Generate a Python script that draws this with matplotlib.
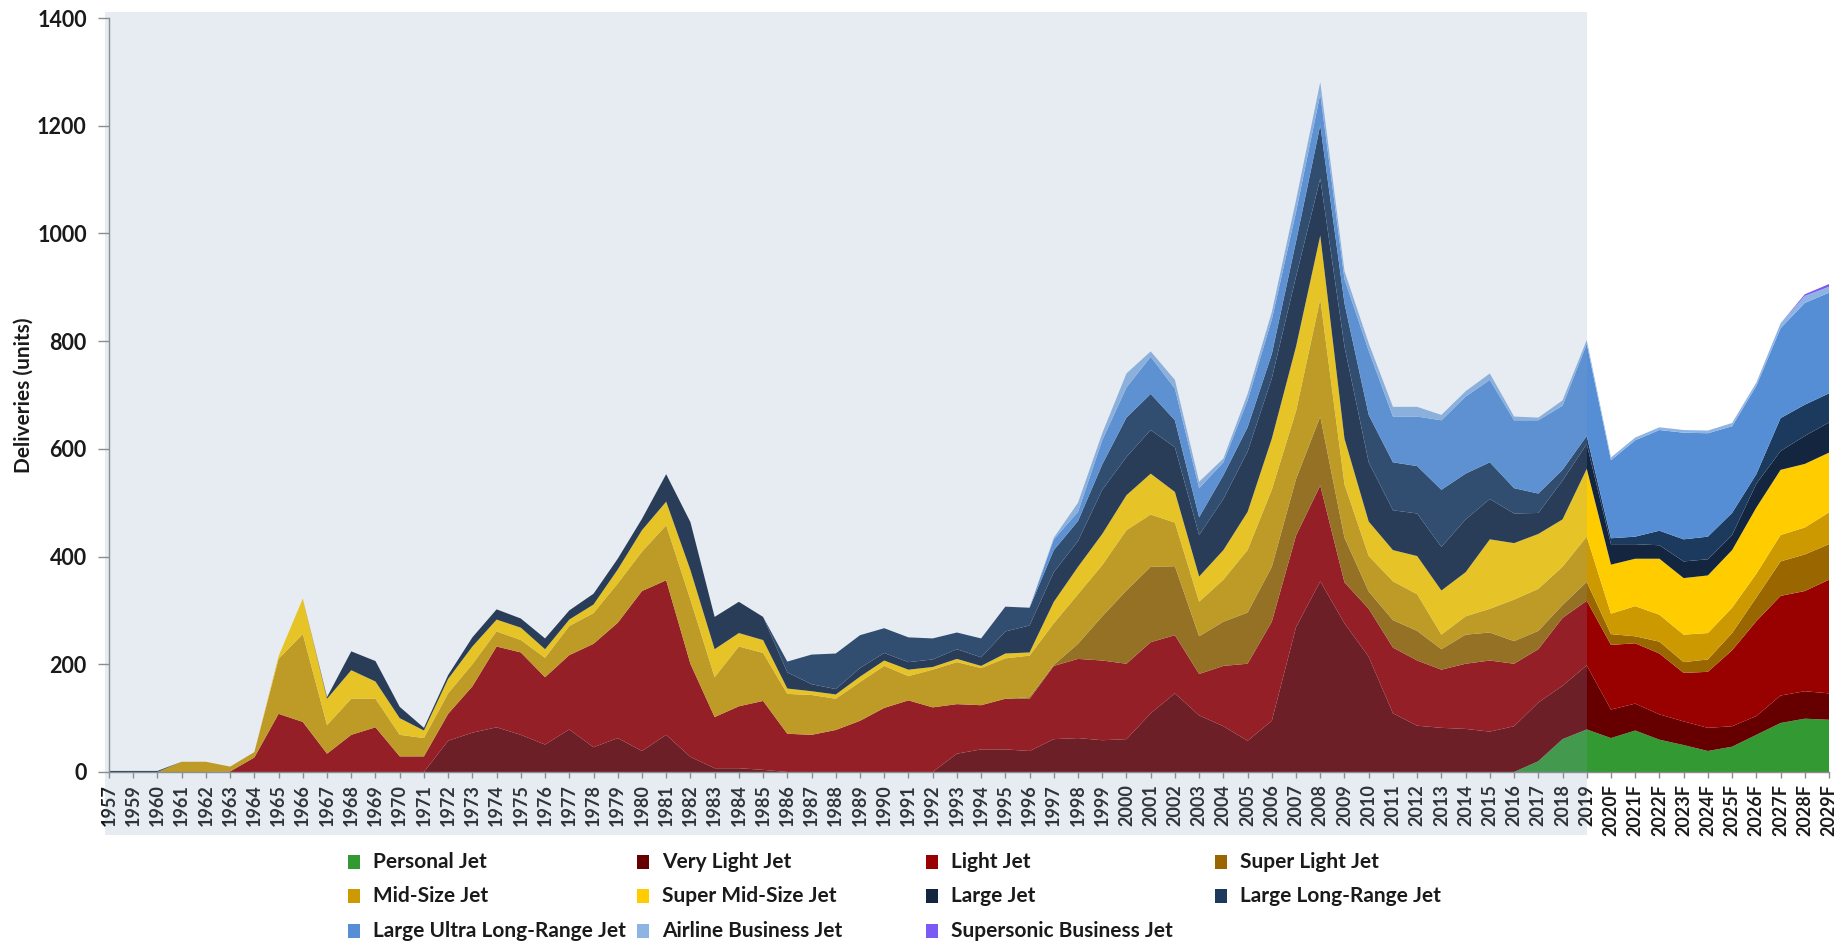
import numpy as np
import matplotlib
matplotlib.use('Agg')
import matplotlib.pyplot as plt
from matplotlib.patches import Rectangle

plt.rcParams['font.family'] = ['Lato', 'DejaVu Sans']

years = ['1957'] + [str(y) for y in range(1959, 2020)] + [f'{y}F' for y in range(2020, 2030)]

personal = [0] * 59 + [20, 61, 79, 63, 77, 60, 50, 39, 47, 69, 91, 99, 97]
very_light = ([0] * 14 + [58, 73, 83, 69, 51, 79, 46, 63, 39, 69, 28, 7, 7, 4] + [0] * 7 +
              [34, 42, 42, 39, 61, 63, 59, 61, 109, 146, 105, 85, 58, 95, 269, 354, 276, 214,
               109, 86, 82, 80, 75, 85, 109, 99, 119] +
              [53, 50, 47, 44, 43, 38, 35, 51, 51, 49])
light = ([0] * 5 +
         [1, 27, 108, 93, 34, 69, 83, 29, 29, 50, 86, 150, 153, 125, 138, 192, 214, 297, 287,
          173, 95, 115, 128, 71, 69, 78, 95, 119, 133, 120, 92, 82, 94, 97, 136, 147, 148, 140,
          132, 108, 77, 112, 143, 184, 170, 178, 76, 89, 122, 121, 108, 121, 132, 116, 99, 126,
          120] +
         [120, 112, 113, 90, 104, 141, 176, 185, 186, 211])
super_light = ([0] * 38 +
               [3, 2, 28, 82, 136, 140, 128, 70, 82, 95, 102, 105, 128, 83, 32, 51, 55, 38, 54,
                52, 42, 34, 24, 35] +
               [20, 13, 22, 20, 23, 32, 44, 64, 68, 66])
mid_size = ([0] * 3 +
            [19, 19, 9, 10, 102, 163, 53, 67, 53, 40, 34, 38, 41, 28, 23, 36, 54, 57, 73, 73,
             102, 119, 74, 111, 89, 74, 74, 58, 72, 78, 45, 70, 78, 69, 75, 77, 77, 92, 95, 112,
             97, 81, 64, 78, 116, 143, 126, 218, 99, 66, 72, 68, 27, 34, 44, 77, 78, 71, 84] +
            [38, 56, 50, 51, 49, 47, 44, 49, 50, 59])
super_mid = ([0] * 7 +
             [5, 66, 49, 53, 32, 31, 14, 27, 33, 22, 23, 16, 12, 16, 26, 40, 44, 55, 52, 25, 24,
              10, 7, 8, 10, 10, 12, 5, 6, 4, 9, 6, 40, 51, 58, 65, 76, 57, 47, 55, 71, 95, 120,
              118, 85, 64, 58, 71, 82, 82, 129, 105, 102, 88, 126] +
             [91, 88, 104, 105, 107, 107, 123, 121, 118, 111])
large = ([2, 2, 2] + [0] * 6 +
         [3, 35, 38, 21, 5, 7, 17, 19, 17, 20, 17, 20, 20, 21, 51, 89, 60, 58, 43, 30, 13, 10,
          16, 14, 14, 14, 18, 16, 41, 50, 55, 48, 82, 71, 81, 83, 77, 95, 112, 112, 130, 106,
          171, 110, 74, 79, 81, 98, 75, 55, 39, 72, 46] +
         [38, 27, 25, 31, 30, 28, 44, 35, 52, 56])
large_long = ([0] * 28 +
              [20, 55, 66, 61, 46, 46, 39, 31, 35, 46, 33, 41, 37, 47, 73, 67, 50, 33, 44, 45,
               45, 65, 99, 80, 88, 89, 88, 106, 85, 68, 47, 36, 20, 15] +
              [11, 14, 27, 41, 42, 41, 18, 61, 58, 54])
large_ultra = ([0] * 39 +
               [20, 17, 45, 56, 69, 59, 54, 24, 50, 64, 55, 58, 45, 119, 85, 92, 129, 143, 153,
                126, 136, 119, 171] +
               [145, 179, 187, 198, 192, 161, 164, 167, 189, 187])
airline = ([0] * 39 +
           [3, 17, 13, 26, 10, 16, 12, 7, 12, 14, 22, 22, 15, 14, 18, 18, 10, 10, 12, 7, 5, 10, 7] +
           [5, 5, 5, 5, 5, 6, 6, 9, 13, 11])
supersonic = [0] * 70 + [3, 5]

series_names = ['Personal Jet', 'Very Light Jet', 'Light Jet', 'Super Light Jet',
                'Mid-Size Jet', 'Super Mid-Size Jet', 'Large Jet', 'Large Long-Range Jet',
                'Large Ultra Long-Range Jet', 'Airline Business Jet', 'Supersonic Business Jet']
series = [personal, very_light, light, super_light, mid_size, super_mid, large, large_long,
          large_ultra, airline, supersonic]
colors = ['#339933', '#660000', '#990000', '#996600', '#CC9900', '#FFCC00', '#13253F',
          '#1C3A5E', '#558ED5', '#8EB4E3', '#7B59F4']

W, H = 1844, 943
fig = plt.figure(figsize=(W / 100, H / 100), dpi=100)
ax_l, ax_r, ax_t, ax_b = 109, 1829, 18, 772
ax = fig.add_axes([ax_l / W, 1 - ax_b / H, (ax_r - ax_l) / W, (ax_b - ax_t) / H])

x = np.arange(len(years))
polys = ax.stackplot(x, *[np.array(s, dtype=float) for s in series], colors=colors)
for p in polys:
    p.set_linewidth(0)

ax.set_xlim(0, len(years) - 1)
ax.set_ylim(0, 1400)
ax.set_yticks(np.arange(0, 1401, 200))
ax.set_xticks(x)
ax.set_xticklabels(years, rotation=90, fontsize=13, fontweight='bold', color='#1a1a1a')
for t in ax.get_yticklabels():
    t.set_fontsize(15.5)
    t.set_fontweight('bold')
    t.set_color('#1a1a1a')
for s in ['top', 'right']:
    ax.spines[s].set_visible(False)
for s in ['left', 'bottom']:
    ax.spines[s].set_color('#8c8c8c')
    ax.spines[s].set_linewidth(1.0)
ax.tick_params(axis='x', which='major', length=4, color='#8c8c8c', width=1.0, pad=5)
ax.tick_params(axis='y', which='major', length=8, color='#8c8c8c', width=1.0, pad=8)
ax.set_facecolor('white')
ax.set_ylabel('Deliveries (units)', fontsize=15, fontweight='bold', color='#1a1a1a')
ax.yaxis.set_label_coords(-0.044, 0.5)

# historical shading overlay (up to 2019)
fig.canvas.draw()
x2019_fig = fig.transFigure.inverted().transform(ax.transData.transform((years.index('2019'), 0)))[0]
ov_left = 105 / W
ov_top = 1 - 12 / H
ov_bot = 1 - 835 / H
rect = Rectangle((ov_left, ov_bot), x2019_fig - ov_left, ov_top - ov_bot,
                 transform=fig.transFigure, facecolor=(134 / 255, 160 / 255, 194 / 255),
                 alpha=0.2, edgecolor='none', zorder=10)
fig.add_artist(rect)

# legend (row-major, 4 columns)
col_x = [348, 637, 926, 1215]
row_y = [862, 896, 931]
for i, (name, c) in enumerate(zip(series_names, colors)):
    col, row = i % 4, i // 4
    mx, my = col_x[col], row_y[row]
    fig.add_artist(Rectangle((mx / W, 1 - (my + 7) / H), 12 / W, 14 / H,
                             transform=fig.transFigure, facecolor=c, edgecolor='none'))
    fig.text((mx + 25) / W, 1 - my / H, name, fontsize=15, fontweight='bold',
             color='#1a1a1a', va='center', ha='left')

fig.savefig('out.png', dpi=100, facecolor='white')
